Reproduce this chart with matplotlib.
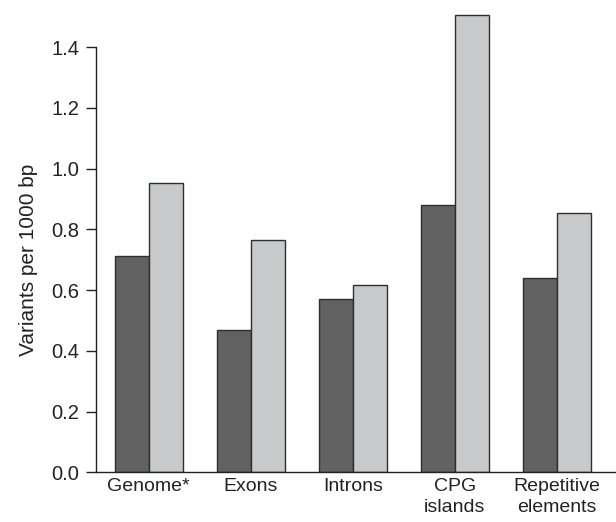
import matplotlib
matplotlib.use("Agg")
import matplotlib.pyplot as plt
import numpy as np

plt.rcParams['font.family'] = ['Liberation Sans', 'DejaVu Sans']

categories = ["Genome*", "Exons", "Introns", "CPG\nislands", "Repetitive\nelements"]
series_a = [0.712, 0.470, 0.570, 0.880, 0.640]
series_b = [0.952, 0.766, 0.617, 1.507, 0.855]
y_ticks = [0.0, 0.2, 0.4, 0.6, 0.8, 1.0, 1.2, 1.4]

fig = plt.figure(figsize=(6.16, 5.22), dpi=100)
ax = fig.add_axes([0.1554, 0.0952, 0.8446, 0.9015])

x = np.arange(len(categories))
w = 0.333
ax.bar(x - w / 2, series_a, width=w, color="#626263", edgecolor="#2e2e2e", linewidth=1.0)
ax.bar(x + w / 2, series_b, width=w, color="#c8c9cb", edgecolor="#2e2e2e", linewidth=1.0)

ax.set_xlim(-0.52, 4.58)
ax.set_ylim(0, 1.55)
ax.set_yticks(y_ticks)
ax.set_yticklabels([f"{v:.1f}" for v in y_ticks])
ax.set_xticks(x)
ax.set_xticklabels(categories, linespacing=1.3)

for s in ("top", "right"):
    ax.spines[s].set_visible(False)
ax.spines["left"].set_bounds(0, y_ticks[-1])
for s in ("left", "bottom"):
    ax.spines[s].set_linewidth(1.0)
    ax.spines[s].set_color("#222222")

ax.tick_params(axis="y", direction="out", length=7, width=1.0, pad=5,
               labelsize=14.5, colors="#222222")
ax.tick_params(axis="x", length=0, pad=4, labelsize=14, colors="#222222")

# y label centred on the drawn spine
ax.set_ylabel("Variants per 1000 bp", fontsize=15, color="#222222")
ax.yaxis.set_label_coords(-0.11, (y_ticks[-1] / 2) / 1.55)

fig.savefig("out.png", dpi=100)
